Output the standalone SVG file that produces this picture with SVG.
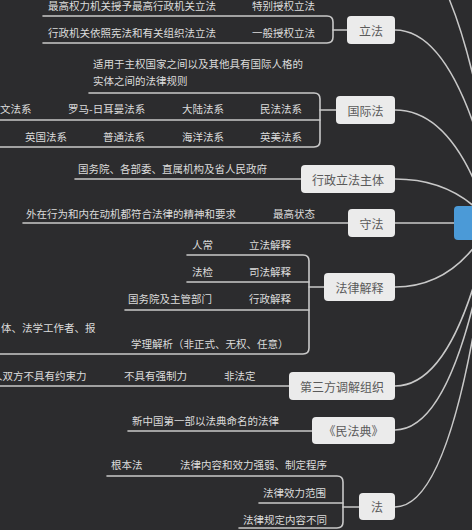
<svg xmlns="http://www.w3.org/2000/svg" width="472" height="530" viewBox="0 0 472 530">
<style>
.bg{fill:#2c2c2e}
.ln{fill:none;stroke:#c9c9c9;stroke-width:1.6;stroke-linecap:round}
.t{font-family:"Noto Sans CJK SC","Noto Sans",sans-serif;font-size:10.5px;fill:#dcdcdc;dominant-baseline:central}
.box{fill:#ebebeb}
.bt{font-family:"Noto Sans CJK SC","Noto Sans",sans-serif;font-size:12px;fill:#5a5a5a;text-anchor:middle;dominant-baseline:central}
</style>
<rect class="bg" x="0" y="0" width="472" height="530"/>
<g id="connectors">
<path class="ln" d="M395,-60 Q460,-60 500,223"/>
<path class="ln" d="M395,30 Q460,30 500,223"/>
<path class="ln" d="M395,110 Q455,110 490,223"/>
<path class="ln" d="M395,179 Q455,179 490,223"/>
<path class="ln" d="M395,223 H454"/>
<path class="ln" d="M395,287 Q455,287 490,223"/>
<path class="ln" d="M395,386 Q455,386 490,223"/>
<path class="ln" d="M395,430 Q455,430 490,223"/>
<path class="ln" d="M395,507 Q455,507 490,223"/>
<path class="ln" d="M43,16 H327 Q333,16 333,22 V37 Q333,43 327,43 H43"/>
<path class="ln" d="M333,30 H347"/>
<path class="ln" d="M89,93 H314 Q320,93 320,99 V141 Q320,147 314,147 H0"/>
<path class="ln" d="M0,120 H320"/>
<path class="ln" d="M320,110 H336"/>
<path class="ln" d="M75,179 H301"/>
<path class="ln" d="M23,223 H348"/>
<path class="ln" d="M187,255 H303 Q309,255 309,261 V348 Q309,354 303,354 H0"/>
<path class="ln" d="M187,282 H309"/>
<path class="ln" d="M125,310 H309"/>
<path class="ln" d="M309,287 H324"/>
<path class="ln" d="M0,386 H289"/>
<path class="ln" d="M128,431 H312"/>
<path class="ln" d="M107,476 H337 Q343,476 343,482 V522 Q343,528 337,528 H239"/>
<path class="ln" d="M259,503 H343"/>
<path class="ln" d="M343,507 H359"/>
</g>
<g id="center"><rect x="454" y="206" width="40" height="34" rx="4" fill="#4b9ad7"/></g>
<g id="lifa">
<rect class="box" x="347" y="16" width="48" height="28" rx="4"/>
<text class="bt" x="371" y="30">立法</text>
<text class="t" x="48" y="5">最高权力机关授予最高行政机关立法</text>
<text class="t" x="252" y="5">特别授权立法</text>
<text class="t" x="48" y="32">行政机关依照宪法和有关组织法立法</text>
<text class="t" x="252" y="32">一般授权立法</text>
</g>
<g id="guojifa">
<rect class="box" x="336" y="96" width="59" height="28" rx="4"/>
<text class="bt" x="365.5" y="110">国际法</text>
<text class="t" x="93" y="63">适用于主权国家之间以及其他具有国际人格的</text>
<text class="t" x="93" y="80">实体之间的法律规则</text>
<text class="t" x="0" y="108">文法系</text>
<text class="t" x="68" y="108">罗马-日耳曼法系</text>
<text class="t" x="182" y="108">大陆法系</text>
<text class="t" x="260" y="108">民法法系</text>
<text class="t" x="25" y="136">英国法系</text>
<text class="t" x="103" y="136">普通法系</text>
<text class="t" x="182" y="136">海洋法系</text>
<text class="t" x="260" y="136">英美法系</text>
</g>
<g id="xingzheng">
<rect class="box" x="301" y="165" width="94" height="28" rx="4"/>
<text class="bt" x="348" y="179">行政立法主体</text>
<text class="t" x="78" y="168">国务院、各部委、直属机构及省人民政府</text>
</g>
<g id="shoufa">
<rect class="box" x="348" y="209" width="47" height="28" rx="4"/>
<text class="bt" x="371.5" y="223">守法</text>
<text class="t" x="26" y="213">外在行为和内在动机都符合法律的精神和要求</text>
<text class="t" x="273" y="213">最高状态</text>
</g>
<g id="jieshi">
<rect class="box" x="324" y="273" width="71" height="28" rx="4"/>
<text class="bt" x="359.5" y="287">法律解释</text>
<text class="t" x="192" y="244">人常</text>
<text class="t" x="249" y="244">立法解释</text>
<text class="t" x="192" y="271">法检</text>
<text class="t" x="249" y="271">司法解释</text>
<text class="t" x="128" y="298">国务院及主管部门</text>
<text class="t" x="249" y="298">行政解释</text>
<text class="t" x="1" y="327">体、法学工作者、报</text>
<text class="t" x="131" y="343">学理解析（非正式、无权、任意）</text>
</g>
<g id="tiaojie">
<rect class="box" x="289" y="372" width="106" height="28" rx="4"/>
<text class="bt" x="342" y="386">第三方调解组织</text>
<text class="t" x="-8" y="375">人双方不具有约束力</text>
<text class="t" x="124" y="375">不具有强制力</text>
<text class="t" x="224" y="375">非法定</text>
</g>
<g id="minfadian">
<rect class="box" x="312" y="417" width="83" height="27" rx="4"/>
<text class="bt" x="353.5" y="430.5">《民法典》</text>
<text class="t" x="132" y="420">新中国第一部以法典命名的法律</text>
</g>
<g id="fa">
<rect class="box" x="359" y="493" width="36" height="27" rx="4"/>
<text class="bt" x="377" y="506.5">法</text>
<text class="t" x="111" y="464">根本法</text>
<text class="t" x="180" y="464">法律内容和效力强弱、制定程序</text>
<text class="t" x="263" y="492">法律效力范围</text>
<text class="t" x="243" y="519">法律规定内容不同</text>
</g>
</svg>
